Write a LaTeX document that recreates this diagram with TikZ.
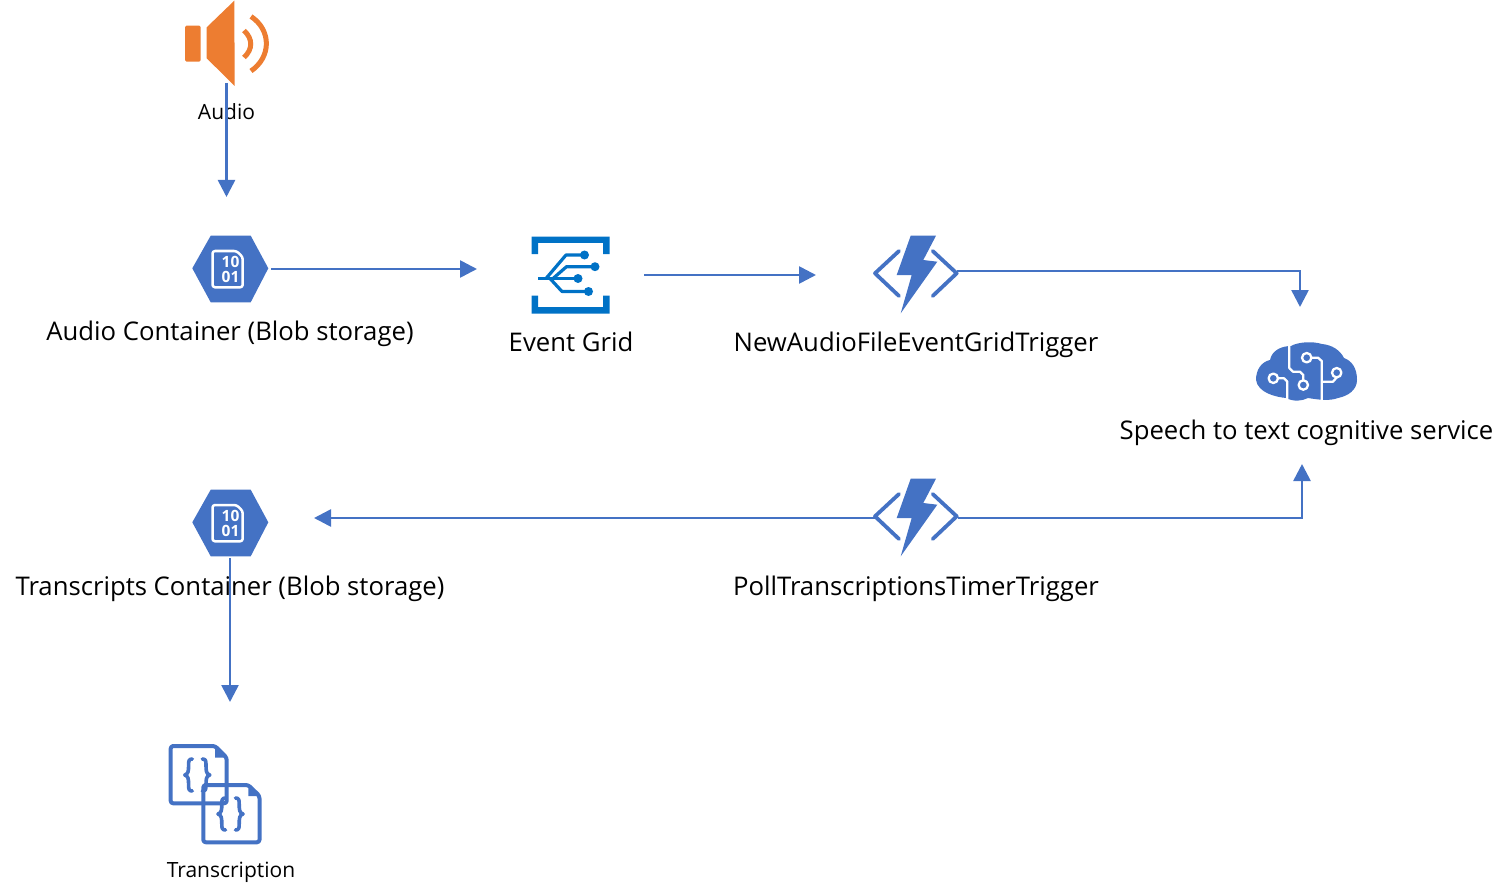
\documentclass[tikz,border=0pt]{standalone}
\usepackage{fontspec}
\setmainfont{Open Sans}
\usetikzlibrary{arrows.meta}
\definecolor{azblue}{HTML}{4472C4}
\definecolor{azorange}{HTML}{ED7D31}
\definecolor{gridblue}{HTML}{0072C6}
\tikzset{
  x=1pt,y=-1pt,
  flow/.style={azblue,line width=2.6pt,-{Triangle[length=17pt,width=17pt]}},
  big/.style={inner sep=0pt,font=\fontsize{25.7}{28}\selectfont,text=black},
  mid/.style={inner sep=0pt,font=\fontsize{21}{24}\selectfont,text=black},
  iconbox/.style={inner sep=0pt,outer sep=0pt,minimum width=#1},
  bits/.style={inner sep=0pt,text=white,font=\fontsize{15.5}{15.5}\selectfont\bfseries},
  bit/.style={azblue,line width=3.8pt,line cap=round,line join=round},
  bracebit/.style={azblue,line width=3.6pt,line cap=round,line join=round},
  circuit/.style={white,line width=2.3pt,line join=round},
  pics/blobicon/.style={code={
    \fill[azblue] (-38.2,-0.7) -- (-19.8,-33.3) -- (20.2,-33.3) -- (37.8,-0.7) -- (20.2,33.3) -- (-19.8,33.3) -- cycle;
    \draw[white,line width=2.5pt,line join=round,rounded corners=2.5pt] (-18,-18) -- (6,-18) -- (12.2,-12) -- (12.2,18.3) -- (-18,18.3) -- cycle;
    \node[bits] (-hi) at (0,-7.5) {10};
    \node[bits] (-lo) at (0,8) {01};
  }},
  pics/fnicon/.style={code={
    \fill[azblue] (-5.3,-37.3) -- (20,-37.3) -- (7.3,-13) -- (21.3,-11.3) -- (-15.3,40.3) -- (-4.3,2) -- (-19.3,2) -- cycle;
    \draw[bit] (-17,-22) -- (-41,0.3) -- (-17,23);
    \draw[bit] (16.7,-22) -- (40.7,0.3) -- (16.7,23);
  }},
  pics/braces/.style={code={
    \draw[bracebit] (-5,-16) .. controls (-8.5,-16) and (-8.7,-14) .. (-8.7,-10) .. controls (-8.7,-4) and (-9,-1) .. (-12.5,0) .. controls (-9,1) and (-8.7,4) .. (-8.7,10) .. controls (-8.7,14) and (-8.5,16) .. (-5,16);
    \draw[bracebit] (5,-16) .. controls (8.5,-16) and (8.7,-14) .. (8.7,-10) .. controls (8.7,-4) and (9,-1) .. (12.5,0) .. controls (9,1) and (8.7,4) .. (8.7,10) .. controls (8.7,14) and (8.5,16) .. (5,16);
  }}
}
\begin{document}
\begin{tikzpicture}
\useasboundingbox (0,0) rectangle (1510,896);

% anchors of the icons
\node[iconbox=20pt,minimum height=83pt] (audio) at (226.5,41.5) {};
\node[iconbox=81pt,minimum height=69pt] (blobA) at (230.5,269) {};
\node[iconbox=80pt,minimum height=78pt] (grid) at (570.5,275) {};
\node[iconbox=82pt,minimum height=78pt] (fnA) at (916,271) {};
\node[iconbox=102pt,minimum height=60pt] (brain) at (1306.5,372) {};
\node[iconbox=83pt,minimum height=78pt] (fnB) at (916.5,518) {};
\node[iconbox=81pt,minimum height=69pt] (blobB) at (230,523.5) {};
\node[iconbox=94pt,minimum height=102pt] (json) at (215,794) {};

% speaker
\fill[azorange,rounded corners=1.5pt] (185,25.7) rectangle (200.7,61.7);
\fill[azorange] (206.7,27.3) -- (234.3,0.7) -- (234.7,86) -- (206.7,58.3) -- cycle;
\draw[azorange,line width=5pt] (244,30.5) .. controls (253,39) and (253,49) .. (244,57.5);
\draw[azorange,line width=5pt] (251,16.5) .. controls (271.5,30) and (271.5,57) .. (251,71);

% blobs
\pic (blobApic) at (230.5,269) {blobicon};
\pic (blobBpic) at (230.5,523) {blobicon};

% event grid
\fill[gridblue] (531.7,236.7) -- (609.5,236.7) -- (609.5,254) -- (603,254) -- (603,243) -- (538,243) -- (538,254) -- (531.7,254) -- cycle;
\fill[gridblue] (531.7,313.5) -- (609.5,313.5) -- (609.5,295.5) -- (603,295.5) -- (603,307) -- (538,307) -- (538,295.5) -- (531.7,295.5) -- cycle;
\begin{scope}[gridblue,line width=3.2pt,line join=round]
\draw (538,278.5) -- (578,278.5);
\draw (546,278.5) -- (566,255) -- (585,255);
\draw (553,278.5) -- (566.5,266.7) -- (595,266.7);
\draw (550,278.5) -- (562,291.5) -- (588,291.5);
\fill (584.5,255) circle (4.5);
\fill (595,266.7) circle (4.5);
\fill (578,278.5) circle (4.5);
\fill (588.5,291.5) circle (4.5);
\end{scope}

% functions
\pic (fnApic) at (916,273) {fnicon};
\pic (fnBpic) at (916,516) {fnicon};

% brain
\fill[azblue] (1256,380)
  .. controls (1256,370) and (1261,362) .. (1270,360)
  .. controls (1272,350) and (1282,346) .. (1291,346)
  .. controls (1298,342) and (1312,341) .. (1322,344)
  .. controls (1332,345) and (1340,350) .. (1344,358)
  .. controls (1352,361) and (1357,368) .. (1357,380)
  .. controls (1357,390) and (1348,396) .. (1338,398)
  .. controls (1330,401) and (1320,400) .. (1308,398)
  .. controls (1302,401) and (1294,402) .. (1286,398)
  .. controls (1276,397) and (1258,393) .. (1256,380) -- cycle;
\begin{scope}[circuit]
\draw (1289.3,346) -- (1289.3,368) -- (1293,371.7) -- (1300,371.7) -- (1303.3,375) -- (1303.3,380);
\draw (1303.3,385) circle (4.7);
\draw (1306.7,357.7) circle (4.7);
\draw (1311.4,357.7) -- (1318,357.7) -- (1321.7,361) -- (1321.7,400);
\draw (1336.7,372.7) circle (4.7);
\draw (1336.7,377.4) -- (1333,381.7) -- (1321.7,381.7);
\draw (1273.3,378.3) circle (4.7);
\draw (1278,378.3) -- (1284,378.3) -- (1287.3,381.7) -- (1287.3,399);
\end{scope}

% json documents
\draw[azblue,line width=4pt,line join=round,rounded corners=2.5pt] (170.7,746) -- (215,746) -- (226.7,757.7) -- (226.7,803.3) -- (170.7,803.3) -- cycle;
\fill[azblue] (215,746) -- (226.7,757.7) -- (215,757.7) -- cycle;
\draw[azblue,line width=4pt,line join=round,rounded corners=2.5pt] (203.3,785) -- (248.3,785) -- (259.5,796) -- (259.5,842.3) -- (203.3,842.3) -- cycle;
\fill[azblue] (248.3,785) -- (259.5,796) -- (248.3,796) -- cycle;
\pic (bracesA) at (197.3,775) {braces};
\pic (bracesB) at (230.5,814) {braces};

% labels
\node[mid] (audioL) at (226.5,112) {Audio};
\node[big] (blobAL) at (230,333.5) {Audio Container (Blob storage)};
\node[big] (gridL) at (571,342) {Event Grid};
\node[big] (fnAL) at (916,345) {NewAudioFileEventGridTrigger};
\node[big] (brainL) at (1306.5,433) {Speech to text cognitive service};
\node[big] (blobBL) at (230,588.5) {Transcripts Container (Blob storage)};
\node[big] (fnBL) at (916,588.5) {PollTranscriptionsTimerTrigger};
\node[mid] (jsonL) at (231,872) {Transcription};

% connector ends
\coordinate (audioEnd) at (226.5,197);
\coordinate (blobAOut) at (271,269);
\coordinate (blobAEnd) at (477,269);
\coordinate (gridOut) at (644,275);
\coordinate (gridEnd) at (816,275);
\coordinate (brainIn) at (1300,307);
\coordinate (brainBack) at (1302,464);
\coordinate (blobBEnd) at (314,518);
\coordinate (jsonEnd) at (230,702);

% connectors
\draw[flow] (audio.south) -- (audioEnd);
\draw[flow] (blobAOut) -- (blobAEnd);
\draw[flow] (gridOut) -- (gridEnd);
\draw[flow] (fnA.east) -| (brainIn);
\draw[flow] (fnB.east) -| (brainBack);
\draw[flow] (fnB.west) -- (blobBEnd);
\draw[flow] (blobB.south) -- (jsonEnd);
\end{tikzpicture}
\end{document}
